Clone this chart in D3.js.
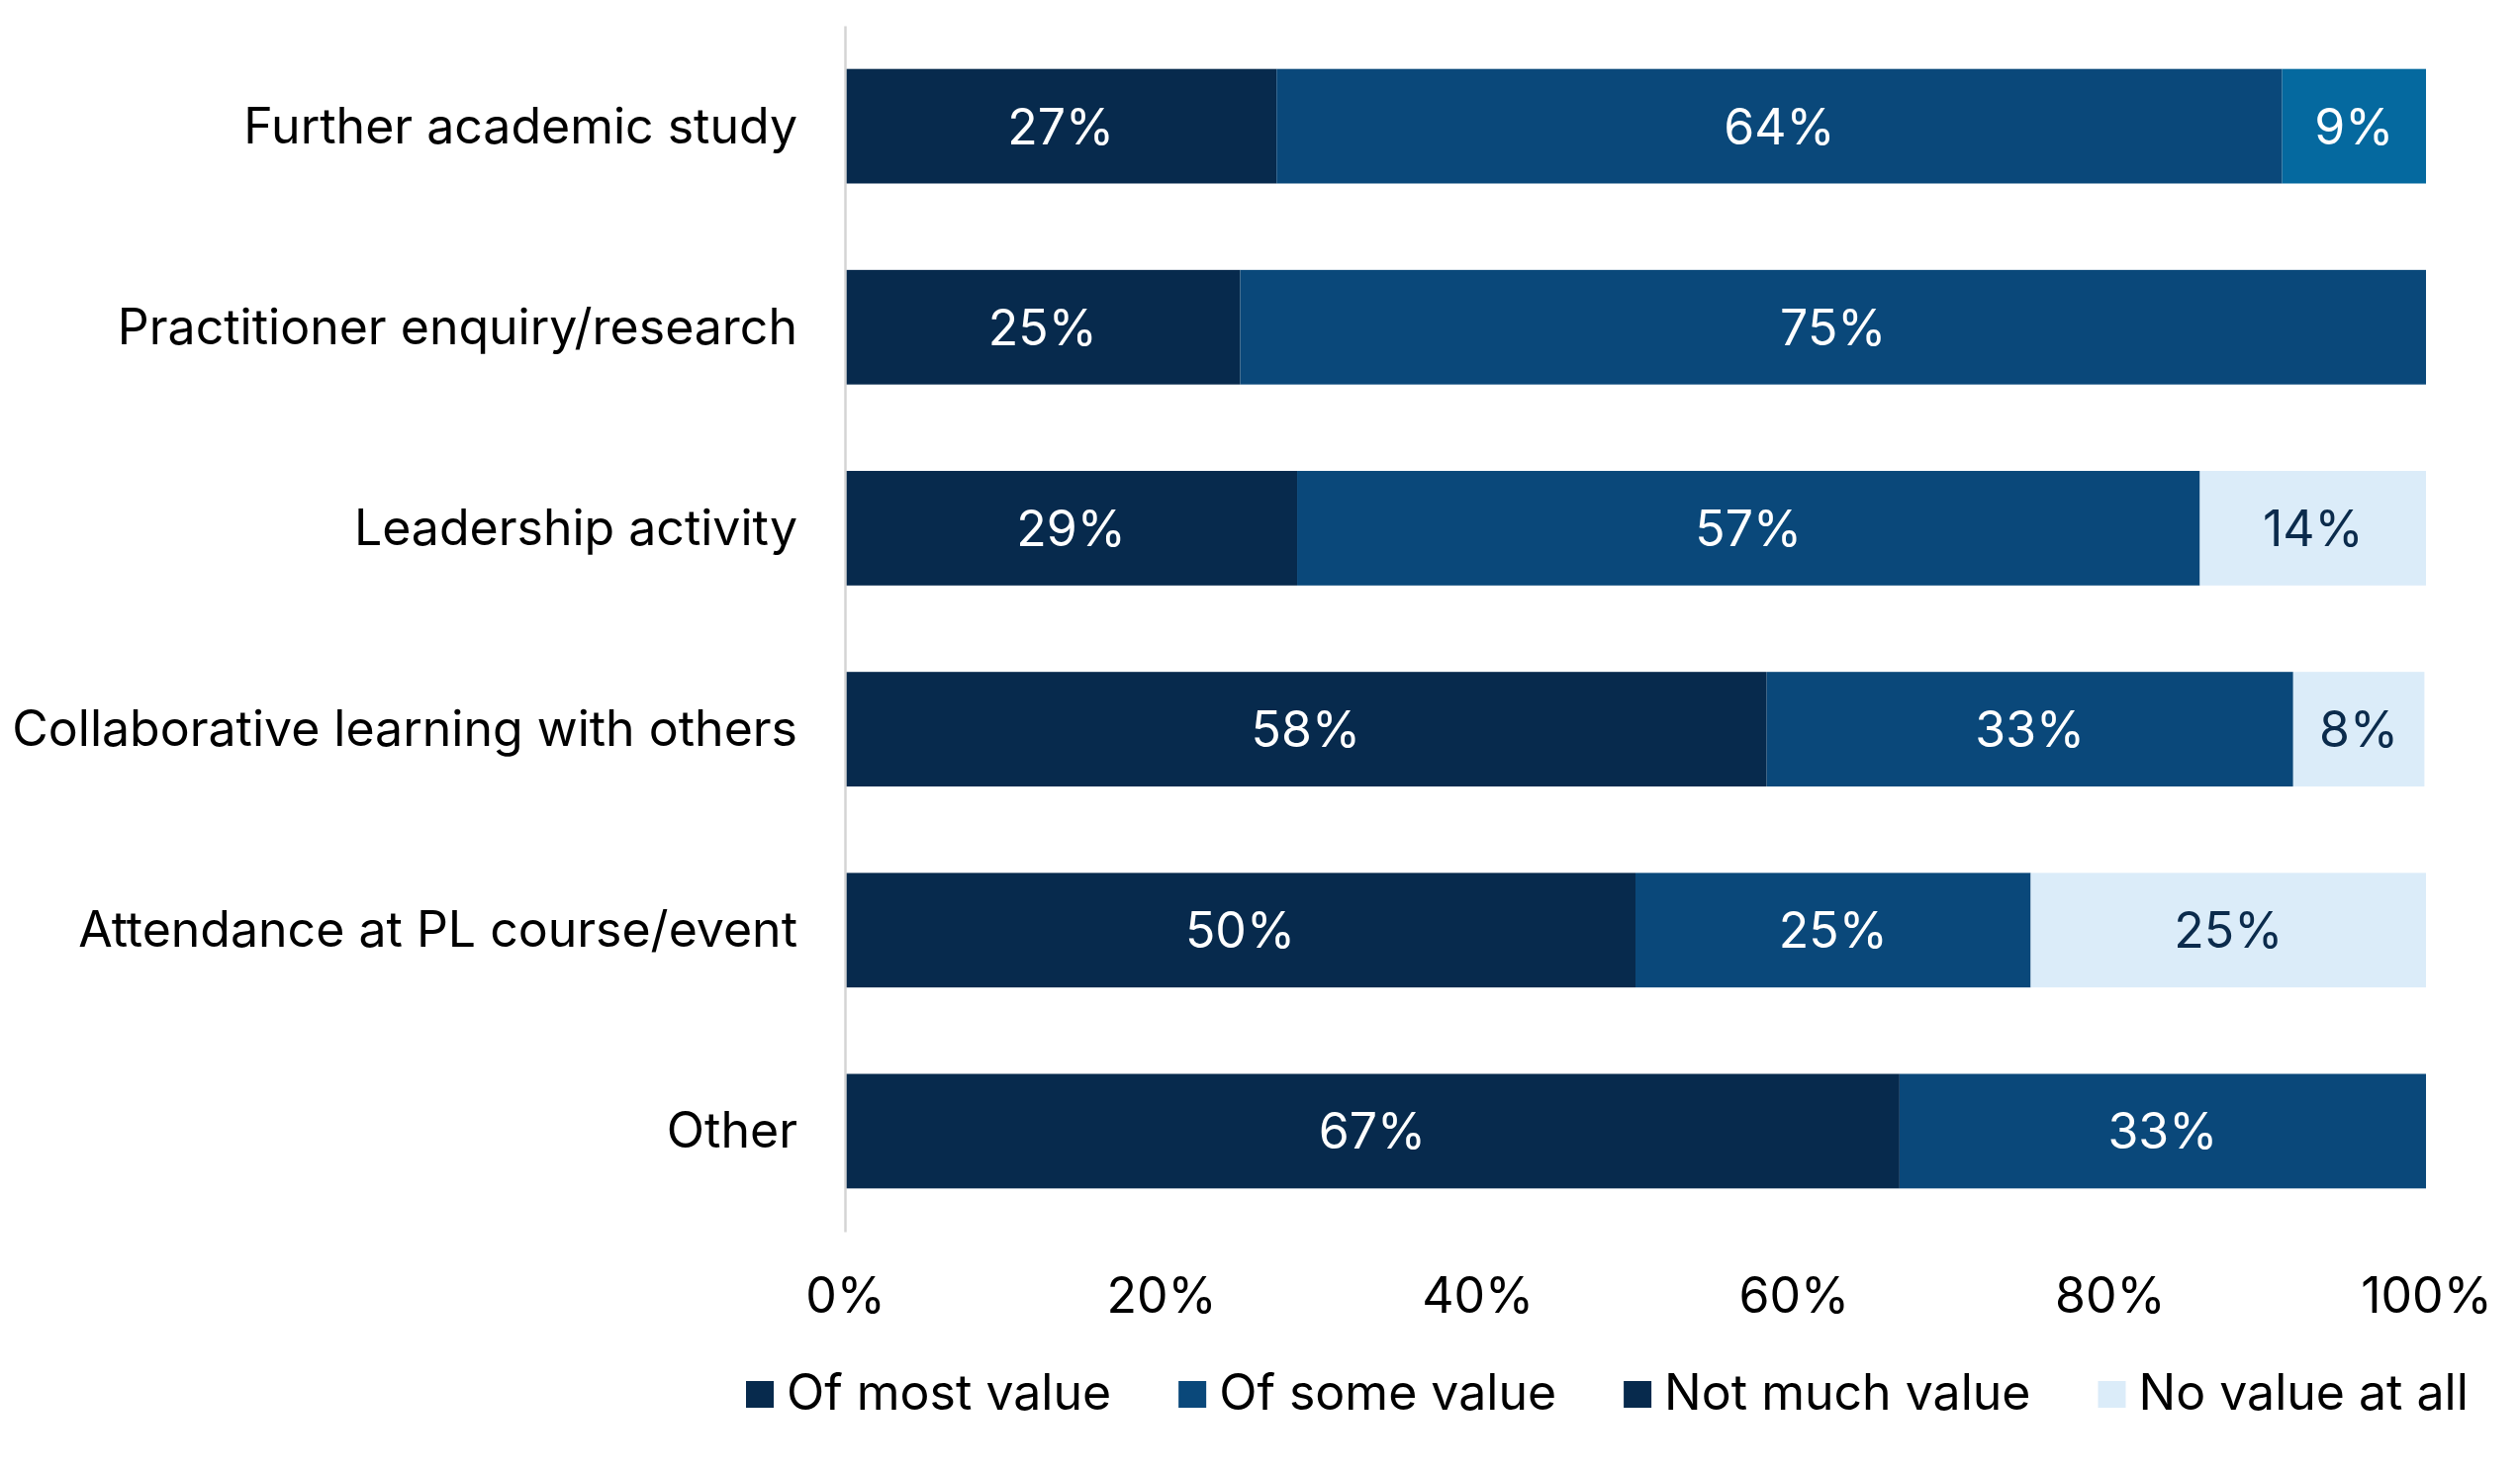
<!DOCTYPE html>
<html>
<head>
<meta charset="utf-8">
<script src="https://cdn.jsdelivr.net/npm/d3@7"></script>
<style>
  body { margin: 0; background: #fff; }
  svg { display: block; font-family: Inter, "Noto Sans", sans-serif; }
</style>
</head>
<body>
<svg id="chart" width="2547" height="1492"></svg>
<script>
var categories = [
    "Further academic study",
    "Practitioner enquiry/research",
    "Leadership activity",
    "Collaborative learning with others",
    "Attendance at PL course/event",
    "Other"
]
var seriesNames = ["Of most value", "Of some value", "Not much value", "No value at all"]
var ofMostValue = [27.3, 25, 28.6, 58.3, 50, 66.7]
var ofSomeValue = [63.6, 75, 57.1, 33.3, 25, 33.3]
var notMuchValue = [9.1, 0, 0, 0, 0, 0]
var noValueAtAll = [0, 0, 14.3, 8.3, 25, 0]
var xTicks = [0, 20, 40, 60, 80, 100]

var barColors = ["#072a4d", "#0a487a", "#05699f", "#dbecf9"]
var legendColors = ["#072a4d", "#0a487a", "#072a4d", "#dbecf9"]
var labelColors = ["#ffffff", "#ffffff", "#ffffff", "#0b2b4c"]

var svg = d3.select("#chart")
var plotLeft = 854, plotRight = 2452, plotTop = 26, plotBottom = 1245

var rows = categories.map(function(c, i) {
    return {
        category: c,
        "Of most value": ofMostValue[i],
        "Of some value": ofSomeValue[i],
        "Not much value": notMuchValue[i],
        "No value at all": noValueAtAll[i]
    }
})
var stacked = d3.stack().keys(seriesNames)(rows)

var x = d3.scaleLinear().domain([0, 100]).range([plotLeft, plotRight])
var y = d3.scaleBand().domain(categories).range([plotTop, plotBottom])
    .paddingInner(0.43).paddingOuter(0.215)

// bars
var series = svg.append("g").selectAll("g")
    .data(stacked)
    .enter().append("g")
    .attr("fill", function(d, i) { return barColors[i] })
series.selectAll("rect")
    .data(function(d) { return d })
    .enter().append("rect")
    .attr("x", function(d) { return x(d[0]) })
    .attr("y", function(d) { return y(d.data.category) })
    .attr("width", function(d) { return x(d[1]) - x(d[0]) })
    .attr("height", y.bandwidth())

// value labels
series.each(function(s, si) {
    d3.select(this).selectAll("text")
        .data(s.filter(function(d) { return d[1] - d[0] > 0 }))
        .enter().append("text")
        .attr("x", function(d) { return (x(d[0]) + x(d[1])) / 2 })
        .attr("y", function(d) { return y(d.data.category) + y.bandwidth() / 2 })
        .attr("dy", "0.36em")
        .attr("text-anchor", "middle")
        .attr("fill", labelColors[si])
        .style("font-size", "50px")
        .text(function(d) { return Math.round(d[1] - d[0]) + "%" })
})

// y axis
var yAxis = svg.append("g")
    .attr("transform", "translate(" + plotLeft + ",0)")
    .call(d3.axisLeft(y).tickSize(0).tickPadding(48))
yAxis.select(".domain").attr("stroke", "#d4d4d4").attr("stroke-width", 2.5)
yAxis.selectAll("text")
    .attr("fill", "#000")
    .attr("dy", "0.34em")
    .style("font-size", "50px")
    .style("font-family", "Inter, 'Noto Sans', sans-serif")

// x axis
var xAxis = svg.append("g")
    .attr("transform", "translate(0," + plotBottom + ")")
    .call(d3.axisBottom(x).tickValues(xTicks).tickSize(0).tickPadding(46)
        .tickFormat(function(d) { return d + "%" }))
xAxis.select(".domain").remove()
xAxis.selectAll("text")
    .attr("fill", "#000")
    .style("font-size", "50px")
    .style("font-family", "Inter, 'Noto Sans', sans-serif")

// legend
var legend = svg.append("g").attr("transform", "translate(754,1396)")
var lx = 0
seriesNames.forEach(function(name, i) {
    var item = legend.append("g").attr("transform", "translate(" + lx + ",0)")
    item.append("rect")
        .attr("width", 28)
        .attr("height", 27)
        .attr("fill", legendColors[i])
    var t = item.append("text")
        .attr("x", 41)
        .attr("y", 29)
        .attr("fill", "#000")
        .style("font-size", "50px")
        .text(name)
    lx += 41 + t.node().getComputedTextLength() + 68
})
</script>
</body>
</html>
